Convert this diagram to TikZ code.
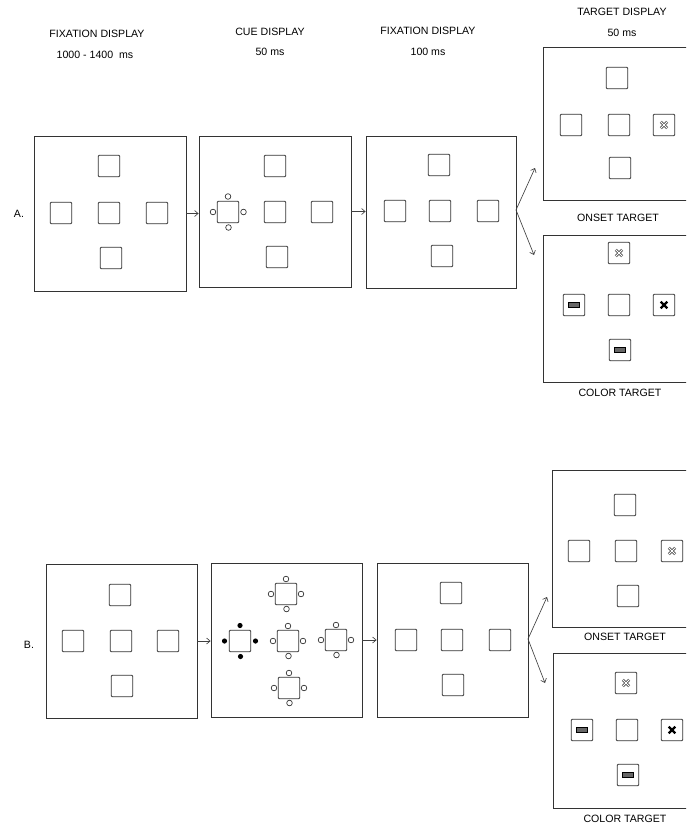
\documentclass[tikz,border=0pt]{standalone}
\usepackage{fontspec}
\setmainfont{Liberation Sans}
\usetikzlibrary{arrows.meta,calc}
\begin{document}
\begin{tikzpicture}[x=1pt,y=-1pt,
  disp/.style={draw=black!80,line width=0.85pt,inner sep=0pt},
  sq/.style={draw=black!80,line width=0.85pt,rounded corners=1pt,minimum size=21.5pt,inner sep=0pt},
  lbl/.style={font=\fontsize{10.6}{12}\selectfont,inner sep=0pt},
  arr/.style={draw=black!75,line width=0.65pt,-{Straight Barb[length=3.5pt,width=6pt]}},
  ring/.style={draw=black!80,line width=0.7pt,circle,minimum size=5.6pt,inner sep=0pt},
  fdot/.style={fill=black,circle,minimum size=5.2pt,inner sep=0pt},
  ox/.pic={\draw[line width=2.6pt,black!70] (-3.2,-3.2)--(3.2,3.2) (-3.2,3.2)--(3.2,-3.2);
           \draw[line width=1pt,white] (-3.2,-3.2)--(3.2,3.2) (-3.2,3.2)--(3.2,-3.2);},
  bx/.pic={\draw[line width=2.2pt,black] (-3.3,-3.3)--(3.3,3.3) (-3.3,3.3)--(3.3,-3.3);},
  bar/.pic={\draw[line width=0.7pt,draw=black,fill=black!60] (-5.5,-2.6) rectangle (5.5,2.6);},
]
\useasboundingbox (0,0) rectangle (686,825);
\clip (0,0) rectangle (686,825);

% headers
\node[lbl] (h1) at (97,34) {FIXATION DISPLAY};
\node[lbl] (h1t) at (95,55) {1000 - 1400 \ ms};
\node[lbl] (h2) at (270,32) {CUE DISPLAY};
\node[lbl] (h2t) at (270,52) {50 ms};
\node[lbl] (h3) at (428,31) {FIXATION DISPLAY};
\node[lbl] (h3t) at (428,52) {100 ms};
\node[lbl] (h4) at (622,12) {TARGET DISPLAY};
\node[lbl] (h4t) at (622,33) {50 ms};

\node[lbl] (rA) at (19,214) {A.};
\node[lbl] (rB) at (29,645) {B.};

% ===== Row A =====
\node[disp,minimum width=152pt,minimum height=155pt] (a1) at (110,213.5) {};
\foreach \n/\x/\y in {t/109/166,l/61/213,c/109/213,r/157/213,b/111/258}
  \node[sq] (a1-\n) at (\x,\y) {};

\node[disp,minimum width=152pt,minimum height=151pt] (a2) at (275,211.5) {};
\foreach \n/\x/\y in {t/275/166,l/228/212,c/275/212,r/322/212,b/277/257}
  \node[sq] (a2-\n) at (\x,\y) {};
\foreach \d/\dx/\dy in {t/0/-15.5,l/-15/0,r/15.5/0,b/0.5/15.5}
  \node[ring] (a2l-\d) at ($(a2-l)+(\dx,\dy)$) {};

\node[disp,minimum width=150pt,minimum height=152pt] (a3) at (441,212) {};
\foreach \n/\x/\y in {t/439/165,l/395/211,c/440/211,r/488/211,b/442/256}
  \node[sq] (a3-n\n) at (\x,\y) {};

\node[disp,minimum width=157pt,minimum height=153pt] (ao) at (621.5,123.5) {};
\foreach \n/\x/\y in {t/617/78,l/571/125,c/619/125,r/664/125,b/620/168}
  \node[sq] (ao-\n) at (\x,\y) {};
\pic at (ao-r) {ox};
\node[lbl] (aol) at (618,218) {ONSET TARGET};

\node[disp,minimum width=157pt,minimum height=147pt] (ac) at (621.5,308.5) {};
\foreach \n/\x/\y in {t/619/253,l/574/305,c/619/305,r/664/305,b/620/350}
  \node[sq] (ac-\n) at (\x,\y) {};
\pic at (ac-t) {ox};
\pic at (ac-r) {bx};
\pic at (ac-l) {bar};
\pic at (ac-b) {bar};
\node[lbl] (acl) at (620,393) {COLOR TARGET};

\draw[arr] (a1.east) -- (a1.east -| a2.west);
\draw[arr] (a2.east) -- (a2.east -| a3.west);
\coordinate (aup) at (535,168);
\coordinate (adn) at (534,255);
\coordinate (asp) at (516,210);
\draw[arr] (asp) -- (aup);
\draw[arr] (asp) -- (adn);

% ===== Row B =====
\node[disp,minimum width=151pt,minimum height=154pt] (b1) at (121.5,641) {};
\foreach \n/\x/\y in {t/120/595,l/73/641,c/121/641,r/168/641,b/122/686}
  \node[sq] (b1-\n) at (\x,\y) {};

\node[disp,minimum width=151pt,minimum height=154pt] (b2) at (286.5,640) {};
\foreach \n/\x/\y in {t/286/594,l/240/641,c/288/641,r/336/640,b/289/688}
  \node[sq] (b2-\n) at (\x,\y) {};
\foreach \d/\dx/\dy in {t/0/-15.5,l/-15.5/0,r/15.5/0,b/0.5/15.5}
  \node[fdot] (b2l-\d) at ($(b2-l)+(\dx,\dy)$) {};
\foreach \s in {t,c,r,b}
  \foreach \d/\dx/\dy in {t/0/-15,l/-15/0,r/15/0,b/0.5/15}
    \node[ring] (b2\s-\d) at ($(b2-\s)+(\dx,\dy)$) {};

\node[disp,minimum width=151pt,minimum height=154pt] (b3) at (452.5,640) {};
\foreach \n/\x/\y in {t/451/593,l/406/640,c/452/640,r/500/640,b/453/685}
  \node[sq] (b3-\n) at (\x,\y) {};

\node[disp,minimum width=148pt,minimum height=157pt] (bo) at (626,548.5) {};
\foreach \n/\x/\y in {t/625/505,l/579/551,c/626/551,r/672/551,b/628/596}
  \node[sq] (bo-\n) at (\x,\y) {};
\pic at (bo-r) {ox};
\node[lbl] (bol) at (625,637) {ONSET TARGET};

\node[disp,minimum width=147pt,minimum height=155pt] (bc) at (626.5,730.5) {};
\foreach \n/\x/\y in {t/626/683,l/582/730,c/627/730,r/672/730,b/628/775}
  \node[sq] (bc-\n) at (\x,\y) {};
\pic at (bc-t) {ox};
\pic at (bc-r) {bx};
\pic at (bc-l) {bar};
\pic at (bc-b) {bar};
\node[lbl] (bcl) at (625,819) {COLOR TARGET};

\draw[arr] (b1.east) -- (b1.east -| b2.west);
\draw[arr] (b2.east) -- (b2.east -| b3.west);
\coordinate (bup) at (547,597);
\coordinate (bdn) at (545,683);
\coordinate (bsp) at (528,639);
\draw[arr] (bsp) -- (bup);
\draw[arr] (bsp) -- (bdn);
\end{tikzpicture}
\end{document}
